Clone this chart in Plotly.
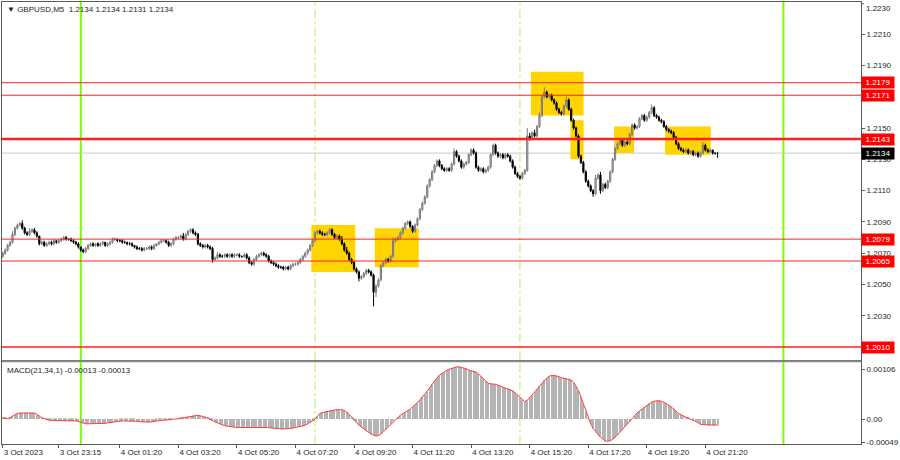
import plotly.graph_objects as go

PIP = 0.0001

# ---- data (bar 0 = 3 Oct 21:20, M5) ----
first_open = 1.2068
close = [
 1.2070,1.2072,1.2075,1.2077,1.2082,1.2086,1.2088,1.2089,1.2086,1.2083,
 1.2082,1.2084,1.2085,1.2083,1.2081,1.2076,1.2077,1.2075,1.2076,1.2077,
 1.2076,1.2078,1.2077,1.2078,1.2079,1.2080,1.2079,1.2079,1.2078,1.2077,
 1.2076,1.2074,1.2072,1.2071,1.2073,1.2075,1.2076,1.2075,1.2076,1.2075,
 1.2076,1.2077,1.2075,1.2076,1.2077,1.2079,1.2079,1.2078,1.2078,1.2077,
 1.2077,1.2076,1.2076,1.2075,1.2074,1.2073,1.2073,1.2072,1.2073,1.2073,
 1.2074,1.2073,1.2075,1.2076,1.2077,1.2078,1.2078,1.2077,1.2075,1.2076,
 1.2079,1.2080,1.2080,1.2081,1.2079,1.2082,1.2084,1.2085,1.2083,1.2082,
 1.2076,1.2075,1.2074,1.2075,1.2074,1.2073,1.2066,1.2067,1.2069,1.2068,
 1.2068,1.2069,1.2068,1.2069,1.2068,1.2069,1.2069,1.2068,1.2068,1.2069,
 1.2067,1.2064,1.2063,1.2066,1.2068,1.2069,1.2070,1.2069,1.2068,1.2065,
 1.2064,1.2063,1.2062,1.2061,1.2061,1.2060,1.2061,1.2060,1.2062,1.2063,
 1.2063,1.2064,1.2066,1.2068,1.2070,1.2072,1.2075,1.2078,1.2083,1.2084,
 1.2083,1.2082,1.2082,1.2083,1.2085,1.2082,1.2080,1.2081,1.2079,1.2076,
 1.2072,1.2070,1.2066,1.2064,1.2060,1.2058,1.2054,1.2055,1.2057,1.2059,
 1.2058,1.2056,1.2045,1.2049,1.2053,1.2062,1.2064,1.2066,1.2065,1.2068,
 1.2078,1.2079,1.2080,1.2083,1.2086,1.2089,1.2090,1.2087,1.2084,1.2088,
 1.2092,1.2098,1.2102,1.2106,1.2113,1.2117,1.2122,1.2126,1.2129,1.2126,
 1.2124,1.2123,1.2124,1.2123,1.2127,1.2135,1.2132,1.2129,1.2125,1.2127,
 1.2128,1.2133,1.2136,1.2134,1.2125,1.2123,1.2124,1.2122,1.2123,1.2125,
 1.2133,1.2139,1.2134,1.2132,1.2133,1.2131,1.2133,1.2132,1.2129,1.2125,
 1.2121,1.2119,1.2118,1.2121,1.2123,1.2145,1.2143,1.2147,1.2145,1.2151,
 1.2158,1.2170,1.2173,1.2170,1.2171,1.2168,1.2166,1.2162,1.2160,1.2159,
 1.2164,1.2168,1.2162,1.2155,1.2150,1.2145,1.2132,1.2128,1.2122,1.2116,
 1.2113,1.2110,1.2108,1.2118,1.2120,1.2110,1.2114,1.2112,1.2116,1.2122,
 1.2130,1.2137,1.2140,1.2142,1.2139,1.2141,1.2140,1.2146,1.2152,1.2150,
 1.2151,1.2156,1.2158,1.2155,1.2157,1.2160,1.2163,1.2158,1.2157,1.2155,
 1.2154,1.2151,1.2149,1.2148,1.2147,1.2144,1.2140,1.2137,1.2136,1.2135,
 1.2136,1.2134,1.2135,1.2133,1.2134,1.2132,1.2134,1.2139,1.2136,1.2135,
 1.2136,1.2134,1.2134,1.2134,
]
upper_wick_pips = [
 1,1,1,1,2,1,1,1,2,1, 1,2,1,1,1,0,1,1,1,1, 1,1,0,1,1,1,1,0,1,1,
 1,1,0,1,1,1,1,1,0,1, 1,1,0,1,1,1,1,0,1,1, 1,0,1,1,0,1,1,1,1,1,
 1,1,1,0,1,1,1,1,1,1, 1,1,1,1,2,1,1,1,1,1, 1,1,1,1,1,1,1,1,2,1,
 1,1,1,1,1,1,1,1,0,1, 1,1,1,1,1,1,1,1,1,1, 1,1,1,1,1,1,1,1,1,1,
 1,1,1,1,1,1,1,1,1,1, 1,1,1,1,1,1,1,1,1,2, 1,2,1,1,1,1,1,1,1,1,
 1,1,1,1,1,1,1,1,1,1, 2,1,1,1,1,1,1,1,1,1, 1,1,1,1,1,1,1,1,1,1,
 1,1,1,1,1,2,1,1,1,1, 1,1,1,1,1,1,1,1,1,1, 1,1,1,1,1,1,1,1,1,1,
 1,1,1,1,1,5,2,1,2,1, 2,1,3,1,1,1,1,1,1,1, 1,2,1,1,1,1,1,1,1,1,
 1,1,1,2,1,2,1,1,1,1, 1,1,1,1,1,1,1,1,1,1, 1,1,1,1,1,1,2,1,1,1,
 1,1,1,1,1,1,1,1,1,1, 1,1,1,1,1,1,1,2,1,1, 1,0,0,0,
]
lower_wick_pips = [
 1,1,1,1,1,1,1,1,1,1, 1,1,1,1,1,1,1,1,1,1, 1,1,1,1,1,1,1,1,1,1,
 1,1,1,1,1,1,1,1,1,1, 1,1,1,1,1,1,1,1,1,1, 1,1,1,1,1,1,1,1,1,1,
 1,1,1,1,1,1,1,1,1,1, 1,1,1,1,1,1,1,1,1,1, 1,1,1,1,1,1,2,1,1,1,
 1,1,1,1,1,1,1,1,1,1, 1,1,1,1,1,1,1,1,1,1, 1,1,1,1,1,1,1,1,1,1,
 1,1,1,1,1,1,1,1,1,1, 1,1,1,1,1,1,1,1,1,1, 1,1,1,1,1,1,2,1,1,1,
 1,1,9,3,1,1,1,1,1,1, 1,1,1,1,1,1,1,1,1,1, 1,1,1,1,1,1,1,1,1,1,
 1,1,1,1,1,1,1,1,1,1, 1,1,1,1,1,1,1,1,1,1, 1,1,1,1,1,1,1,1,1,1,
 1,1,1,1,1,1,1,1,1,1, 1,1,1,1,1,1,1,1,1,1, 1,1,1,1,1,1,1,1,1,1,
 1,1,2,1,1,2,1,1,1,1, 1,1,1,1,1,1,1,1,1,1, 1,1,1,1,1,1,1,1,1,1,
 1,1,1,1,1,1,1,1,1,1, 1,1,1,1,1,1,1,1,1,1, 1,1,1,3,
]
# MACD(21,34,1) values in units of 0.00001
macd_e5 = [
 3,2,1,3,6,9,12,13,13,13, 13,13,13,13,10,6,3,1,-1,-2,
 -3,-3,-4,-4,-4,-4,-4,-4,-4,-4, -4,-5,-7,-9,-10,-10,-10,-9,-9,-9,
 -9,-9,-9,-8,-8,-7,-6,-5,-4,-4, -4,-4,-4,-4,-4,-5,-5,-6,-6,-7,
 -7,-6,-5,-4,-3,-3,-2,-2,-1,-1, 0,0,1,2,3,4,5,6,7,8,
 8,7,6,4,2,-1,-3,-6,-8,-10, -13,-14,-15,-16,-17,-17,-18,-18,-18,-18,
 -18,-18,-18,-18,-17,-17,-17,-17,-18,-18, -19,-19,-20,-20,-21,-21,-21,-21,-20,-19,
 -18,-17,-16,-15,-13,-10,-7,-4,0,6, 12,14,15,17,18,19,20,20,20,20,
 18,15,10,5,-1,-7,-13,-17,-21,-25, -29,-32,-34,-36,-35,-32,-27,-22,-16,-10,
 -5,0,4,8,12,15,18,21,26,30, 35,41,47,52,58,66,74,82,88,93,
 97,100,104,106,108,109,111,111,110,109, 107,104,103,102,100,96,91,86,81,76,
 75,75,74,72,70,68,66,65,63,60, 56,51,46,41,37,40,46,52,58,64,
 70,76,83,87,91,93,93,92,90,88, 87,86,85,83,78,70,61,47,33,16,
 1,-10,-20,-27,-33,-38,-43,-47,-47,-46, -43,-39,-34,-28,-22,-16,-11,-6,0,7,
 13,17,21,26,30,33,36,38,39,39, 38,36,33,30,26,22,17,12,9,6,
 4,2,0,-2,-5,-8,-11,-12,-12,-13, -13,-13,-13,-13,
]

time_tick_bars = [0, 23, 48, 72, 96, 120, 144, 168, 192, 216, 240, 264, 288]
time_tick_labels = ["3 Oct 2023", "3 Oct 23:15", "4 Oct 01:20", "4 Oct 03:20", "4 Oct 05:20",
                    "4 Oct 07:20", "4 Oct 09:20", "4 Oct 11:20", "4 Oct 13:20", "4 Oct 15:20",
                    "4 Oct 17:20", "4 Oct 19:20", "4 Oct 21:20"]
price_top_label = "1.2230"
price_ticks = [1.2210, 1.2190, 1.2150, 1.2130, 1.2110, 1.2090, 1.2070, 1.2050, 1.2030]
macd_ticks = [0.00106, 0.0, -0.00049]
macd_tick_labels = ["0.00106", "0.00", "-0.00049"]

level_prices = [1.2179, 1.2171, 1.2143, 1.2079, 1.2065, 1.2010]
level_widths = [1, 1, 2.5, 1, 1, 1.5]
bid_price = 1.2134

day_separator_bars = [32, 320]      # 4 Oct 00:00, 5 Oct 00:00
session_bars = [128, 212]           # 4 Oct 08:00, 4 Oct 15:00

box_bar_start = [126.5, 152.5, 216.5, 232.7, 250.6, 271.5]
box_bar_end = [144.5, 170.5, 238.1, 238.1, 258.8, 290.2]
box_price_low = [1.2058, 1.2061, 1.2158, 1.2130, 1.2134, 1.2133]
box_price_high = [1.2088, 1.2086, 1.2186, 1.2155, 1.2151, 1.2151]

# ---- build ----
n = len(close)
bars = list(range(n))
opn = [first_open] + close[:-1]
high = [max(o, c) + u * PIP for o, c, u in zip(opn, close, upper_wick_pips)]
low = [min(o, c) - d * PIP for o, c, d in zip(opn, close, lower_wick_pips)]
macd = [v * 1e-5 for v in macd_e5]

FONT = "Liberation Sans, Arial, sans-serif"
TXT = "#1e1e1e"
AX = "#5a5a5a"

fig = go.Figure()
fig.add_trace(go.Candlestick(
    x=bars, open=opn, high=high, low=low, close=close,
    xaxis="x", yaxis="y", whiskerwidth=0,
    increasing=dict(line=dict(color="#7a7a7a", width=1), fillcolor="#c4c4c4"),
    decreasing=dict(line=dict(color="#000000", width=1), fillcolor="#000000"),
    showlegend=False, hoverinfo="skip"))
fig.add_trace(go.Bar(x=bars, y=macd, xaxis="x2", yaxis="y2", width=0.45,
                     marker=dict(color="#b4b4b4", line=dict(width=0)),
                     showlegend=False, hoverinfo="skip"))
fig.add_trace(go.Scatter(x=bars, y=macd, xaxis="x2", yaxis="y2", mode="lines",
                         line=dict(color="#ff3b3b", width=1),
                         showlegend=False, hoverinfo="skip"))

shapes = []
for x0, x1, y0, y1 in zip(box_bar_start, box_bar_end, box_price_low, box_price_high):
    shapes.append(dict(type="rect", xref="x", yref="y", x0=x0, x1=x1, y0=y0, y1=y1,
                       fillcolor="#ffd400", line=dict(width=0), layer="below"))
for b in day_separator_bars:
    for yr in ["y domain", "y2 domain"]:
        shapes.append(dict(type="line", xref="x", yref=yr, x0=b, x1=b, y0=0, y1=1,
                           line=dict(color="#7cfc00", width=2), layer="below"))
for b in session_bars:
    for yr in ["y domain", "y2 domain"]:
        shapes.append(dict(type="line", xref="x", yref=yr, x0=b, x1=b, y0=0, y1=1,
                           line=dict(color="#b8ec6a", width=1, dash="dashdot"), layer="below"))
shapes.append(dict(type="line", xref="x domain", yref="y", x0=0, x1=1, y0=bid_price, y1=bid_price,
                   line=dict(color="#c8c8c8", width=1), layer="below"))
for p, w in zip(level_prices, level_widths):
    shapes.append(dict(type="line", xref="x domain", yref="y", x0=0, x1=1, y0=p, y1=p,
                       line=dict(color="#ff2020", width=w), layer="above"))
# pane separator band
shapes.append(dict(type="rect", xref="paper", yref="paper", x0=0, x1=1, y0=0.1851, y1=0.1896,
                   fillcolor="#8a8a8a", line=dict(width=0)))
# tick mark for the top price label
shapes.append(dict(type="line", xref="paper", yref="paper", x0=1, x1=1.0035, y0=0.996, y1=0.996,
                   line=dict(color=AX, width=1)))

annotations = []
for p in level_prices:
    annotations.append(dict(x=1, xref="paper", xanchor="left", y=p, yref="y", yanchor="middle",
                            text=f"{p:.4f}", showarrow=False, bgcolor="#ff0000",
                            font=dict(family=FONT, size=8, color="white"),
                            width=32, height=11, borderpad=0, align="center"))
annotations.append(dict(x=1, xref="paper", xanchor="left", y=bid_price, yref="y", yanchor="middle",
                        text=f"{bid_price:.4f}", showarrow=False, bgcolor="#000000",
                        font=dict(family=FONT, size=8, color="white"),
                        width=32, height=11, borderpad=0, align="center"))
annotations.append(dict(x=1, xref="paper", xanchor="left", xshift=3, y=1, yref="paper",
                        yanchor="top", yshift=0, showarrow=False, text=price_top_label,
                        font=dict(family=FONT, size=8, color=TXT)))
annotations.append(dict(x=0, xref="paper", xanchor="left", xshift=3, y=1, yref="paper",
                        yanchor="top", yshift=-1, showarrow=False,
                        text="▼ GBPUSD,M5  1.2134 1.2134 1.2131 1.2134",
                        font=dict(family=FONT, size=8, color=TXT)))
annotations.append(dict(x=0, xref="paper", xanchor="left", xshift=3, y=0.1851, yref="paper",
                        yanchor="top", yshift=-2, showarrow=False,
                        text="MACD(21,34,1) -0.00013 -0.00013",
                        font=dict(family=FONT, size=8, color=TXT)))

xr = [-0.3, 351.8]
fig.update_layout(
    width=900, height=460,
    margin=dict(l=2, r=34, t=1, b=16),
    paper_bgcolor="white", plot_bgcolor="white",
    font=dict(family=FONT, size=8, color=TXT),
    hovermode=False, showlegend=False,
    shapes=shapes, annotations=annotations,
    xaxis=dict(domain=[0, 1], range=xr, anchor="y", matches="x2", showticklabels=False,
               showgrid=False, zeroline=False, showline=True, mirror=True, linecolor=AX,
               linewidth=1, rangeslider=dict(visible=False), ticks=""),
    xaxis2=dict(domain=[0, 1], range=xr, anchor="y2", tickmode="array",
                tickvals=time_tick_bars, ticktext=time_tick_labels,
                ticks="outside", ticklen=3, tickcolor=AX, ticklabelposition="outside right",
                tickfont=dict(family=FONT, size=8, color=TXT),
                showgrid=False, zeroline=False, showline=True, mirror=True,
                linecolor=AX, linewidth=1),
    yaxis=dict(domain=[0.1896, 1], range=[1.20016, 1.22306], side="right", anchor="x",
               tickmode="array", tickvals=price_ticks, tickformat=".4f",
               ticks="outside", ticklen=3, tickcolor=AX,
               tickfont=dict(family=FONT, size=8, color=TXT),
               showgrid=False, zeroline=False, showline=True, mirror=True,
               linecolor=AX, linewidth=1),
    yaxis2=dict(domain=[0, 0.1851], range=[-0.00053, 0.00121], side="right", anchor="x2",
                tickmode="array", tickvals=macd_ticks, ticktext=macd_tick_labels,
                ticks="outside", ticklen=3, tickcolor=AX,
                tickfont=dict(family=FONT, size=8, color=TXT),
                showgrid=False, zeroline=False, showline=True, mirror=True,
                linecolor=AX, linewidth=1),
)

fig.write_html("out.html", config={"displayModeBar": False},
               post_script="document.body.style.margin='0';document.body.style.padding='0';")
